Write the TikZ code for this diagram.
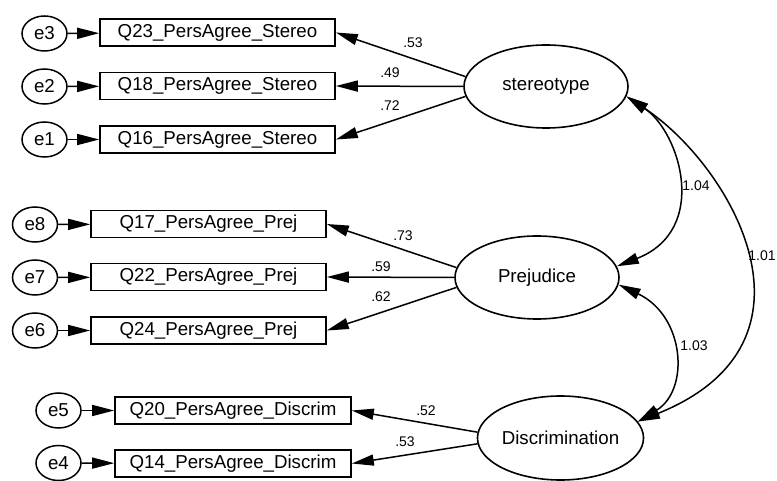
\documentclass[tikz,border=0pt]{standalone}
\usepackage{fontspec}
\setmainfont{Liberation Sans}
\usetikzlibrary{arrows.meta,shapes.geometric}
\begin{document}
\begin{tikzpicture}[x=1pt,y=-1pt,
  every node/.style={font=\fontsize{18.7}{22}\selectfont, inner sep=0pt},
  errnode/.style={draw, ellipse, line width=1.5pt, minimum width=45pt, minimum height=35pt},
  obsbox/.style={draw, rectangle, line width=1.6pt, minimum width=235pt, minimum height=27pt},
  latent/.style={draw, ellipse, line width=1.6pt, minimum width=164pt, minimum height=83pt},
  loading/.style={line width=1.5pt, -{Triangle[length=22pt,width=11pt]}},
  cov/.style={line width=1.5pt, {Triangle[length=22pt,width=11pt]}-{Triangle[length=22pt,width=11pt]}},
  coef/.style={font=\fontsize{14}{16}\selectfont}]
\useasboundingbox (0,0) rectangle (777,481);

% latent variables
\node[latent] (st) at (546,86.5) {stereotype};
\node[latent] (pr) at (537,277.5) {Prejudice};
\node[latent, minimum width=165pt, minimum height=84pt] (di) at (560.5,438) {Discrimination};

% stereotype indicators
\node[obsbox] (q23) at (217.5,32.5) {Q23\_PersAgree\_Stereo};
\node[obsbox] (q18) at (217.5,86) {Q18\_PersAgree\_Stereo};
\node[obsbox] (q16) at (217.5,139.5) {Q16\_PersAgree\_Stereo};
\node[errnode] (e3) at (44.5,33.5) {e3};
\node[errnode] (e2) at (44.5,86.5) {e2};
\node[errnode] (e1) at (44.5,139.5) {e1};

% prejudice indicators
\node[obsbox] (q17) at (208.5,224) {Q17\_PersAgree\_Prej};
\node[obsbox] (q22) at (208.5,277) {Q22\_PersAgree\_Prej};
\node[obsbox] (q24) at (208.5,330.5) {Q24\_PersAgree\_Prej};
\node[errnode] (e8) at (35,224.5) {e8};
\node[errnode] (e7) at (35,277.5) {e7};
\node[errnode] (e6) at (35,330.5) {e6};

% discrimination indicators
\node[obsbox, minimum width=236pt] (q20) at (233,410.5) {Q20\_PersAgree\_Discrim};
\node[obsbox, minimum width=236pt] (q14) at (233,463.5) {Q14\_PersAgree\_Discrim};
\node[errnode] (e5) at (58.5,410.5) {e5};
\node[errnode] (e4) at (58.5,463) {e4};

% error terms
\foreach \e/\q in {e3/q23,e2/q18,e1/q16,e8/q17,e7/q22,e6/q24,e5/q20,e4/q14}
  \draw[loading] (\e) -- (\q);

% factor loadings
\draw[loading] (st.173) -- (q23.east);
\draw[loading] (st.180) -- (q18.east);
\draw[loading] (st.187) -- (q16.east);
\draw[loading] (pr.173) -- (q17.east);
\draw[loading] (pr.180) -- (q22.east);
\draw[loading] (pr.187) -- (q24.east);
\draw[loading] (di.176) -- (q20.east);
\draw[loading] (di.184) -- (q14.east);

\node[coef] (l53a) at (413,43) {.53};
\node[coef] (l49) at (390,73) {.49};
\node[coef] (l72) at (390,106) {.72};
\node[coef] (l73) at (403,236) {.73};
\node[coef] (l59) at (381,267) {.59};
\node[coef] (l62) at (381,297) {.62};
\node[coef] (l52) at (426,411) {.52};
\node[coef] (l53b) at (405,442) {.53};

% covariances
\draw[cov] (st.-7.5) .. controls (680,132) and (710,230) .. (pr.8);
\draw[cov] (pr.-5) .. controls (685,316) and (690,390) .. (di.12);
\draw[cov] (st.-7.5) .. controls (730,165) and (835,342) .. (di.12);

\node[coef] (c104) at (696,186) {1.04};
\node[coef] (c103) at (694,346) {1.03};
\node[coef] (c101) at (762,256) {1.01};
\end{tikzpicture}
\end{document}
